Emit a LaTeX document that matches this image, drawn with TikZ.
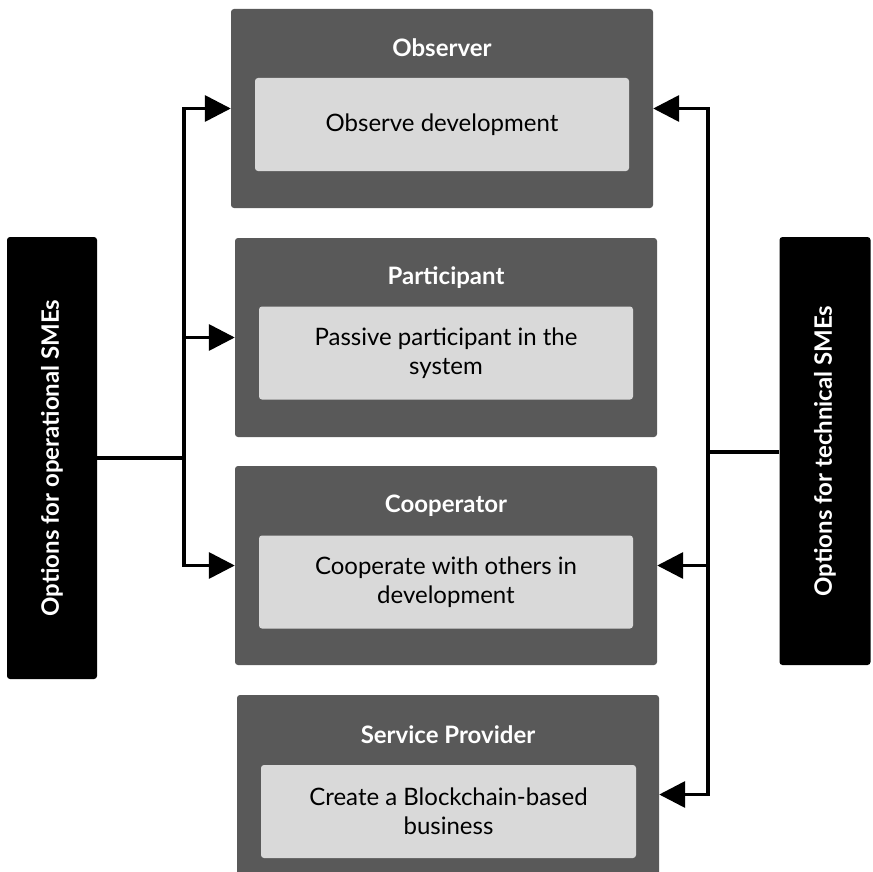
\documentclass[tikz,border=0pt]{standalone}
\usepackage{fontspec}
\setmainfont{Lato}
\usetikzlibrary{arrows.meta}
\definecolor{outerg}{HTML}{595959}
\definecolor{innerg}{HTML}{D9D9D9}
\tikzset{
  outerbox/.style={fill=outerg, rounded corners=3pt, minimum width=422pt, minimum height=199pt, inner sep=0pt},
  innerbox/.style={fill=innerg, rounded corners=3pt, minimum width=374pt, minimum height=93pt, inner sep=0pt, align=center, font=\fontsize{24}{29}\selectfont, text=black},
  titletext/.style={text=white, font=\bfseries\fontsize{24}{28}\selectfont, inner sep=0pt},
  sidebar/.style={fill=black, rounded corners=3pt, inner sep=0pt},
  bartext/.style={text=white, font=\bfseries\fontsize{24}{28}\selectfont, rotate=90, inner sep=0pt},
  conn/.style={line width=3.5pt},
  arr/.style={conn, -{Triangle[length=26pt, width=26pt]}}
}
\begin{document}
\begin{tikzpicture}[x=1pt, y=-1pt]
\useasboundingbox (0,0) rectangle (872,872);
% boxes
\node[outerbox] (obs) at (442,108.5) {};
\node[innerbox] (obsi) at (442,124.5) {Observe development};
\node[titletext] (obst) at (442,48) {Observer};

\node[outerbox] (part) at (446,337.5) {};
\node[innerbox] (parti) at (446,353) {Passive participant in the\\system};
\node[titletext] (partt) at (446,278) {Participant};

\node[outerbox] (coop) at (446,565.5) {};
\node[innerbox] (coopi) at (446,582) {Cooperate with others in\\development};
\node[titletext] (coopt) at (446,506) {Cooperator};

\node[outerbox] (sp) at (448,794.5) {};
\node[innerbox, minimum width=375pt] (spi) at (448.5,811.5) {Create a Blockchain-based\\business};
\node[titletext] (spt) at (448,735) {Service Provider};

% side bars
\node[sidebar, minimum width=90pt, minimum height=442pt] (lbar) at (52,458) {};
\node[bartext] (lbart) at (lbar.center) {Options for operational SMEs};
\node[sidebar, minimum width=91pt, minimum height=428pt] (rbar) at (825,451) {};
\node[bartext] (rbart) at (rbar.center) {Options for technical SMEs};

% connectors left
\coordinate (jL) at (184,458);
\draw[conn] (lbar.east |- jL) -- (jL);
\draw[arr] (jL) |- (obs.west);
\draw[arr] (jL) |- (part.west);
\draw[arr] (jL) |- (coop.west);

% connectors right
\coordinate (jR) at (708,452);
\draw[conn] (rbar.west |- jR) -- (jR);
\draw[arr] (jR) |- (obs.east);
\draw[arr] (jR) |- (coop.east);
\draw[arr] (jR) |- (sp.east);
\end{tikzpicture}
\end{document}
